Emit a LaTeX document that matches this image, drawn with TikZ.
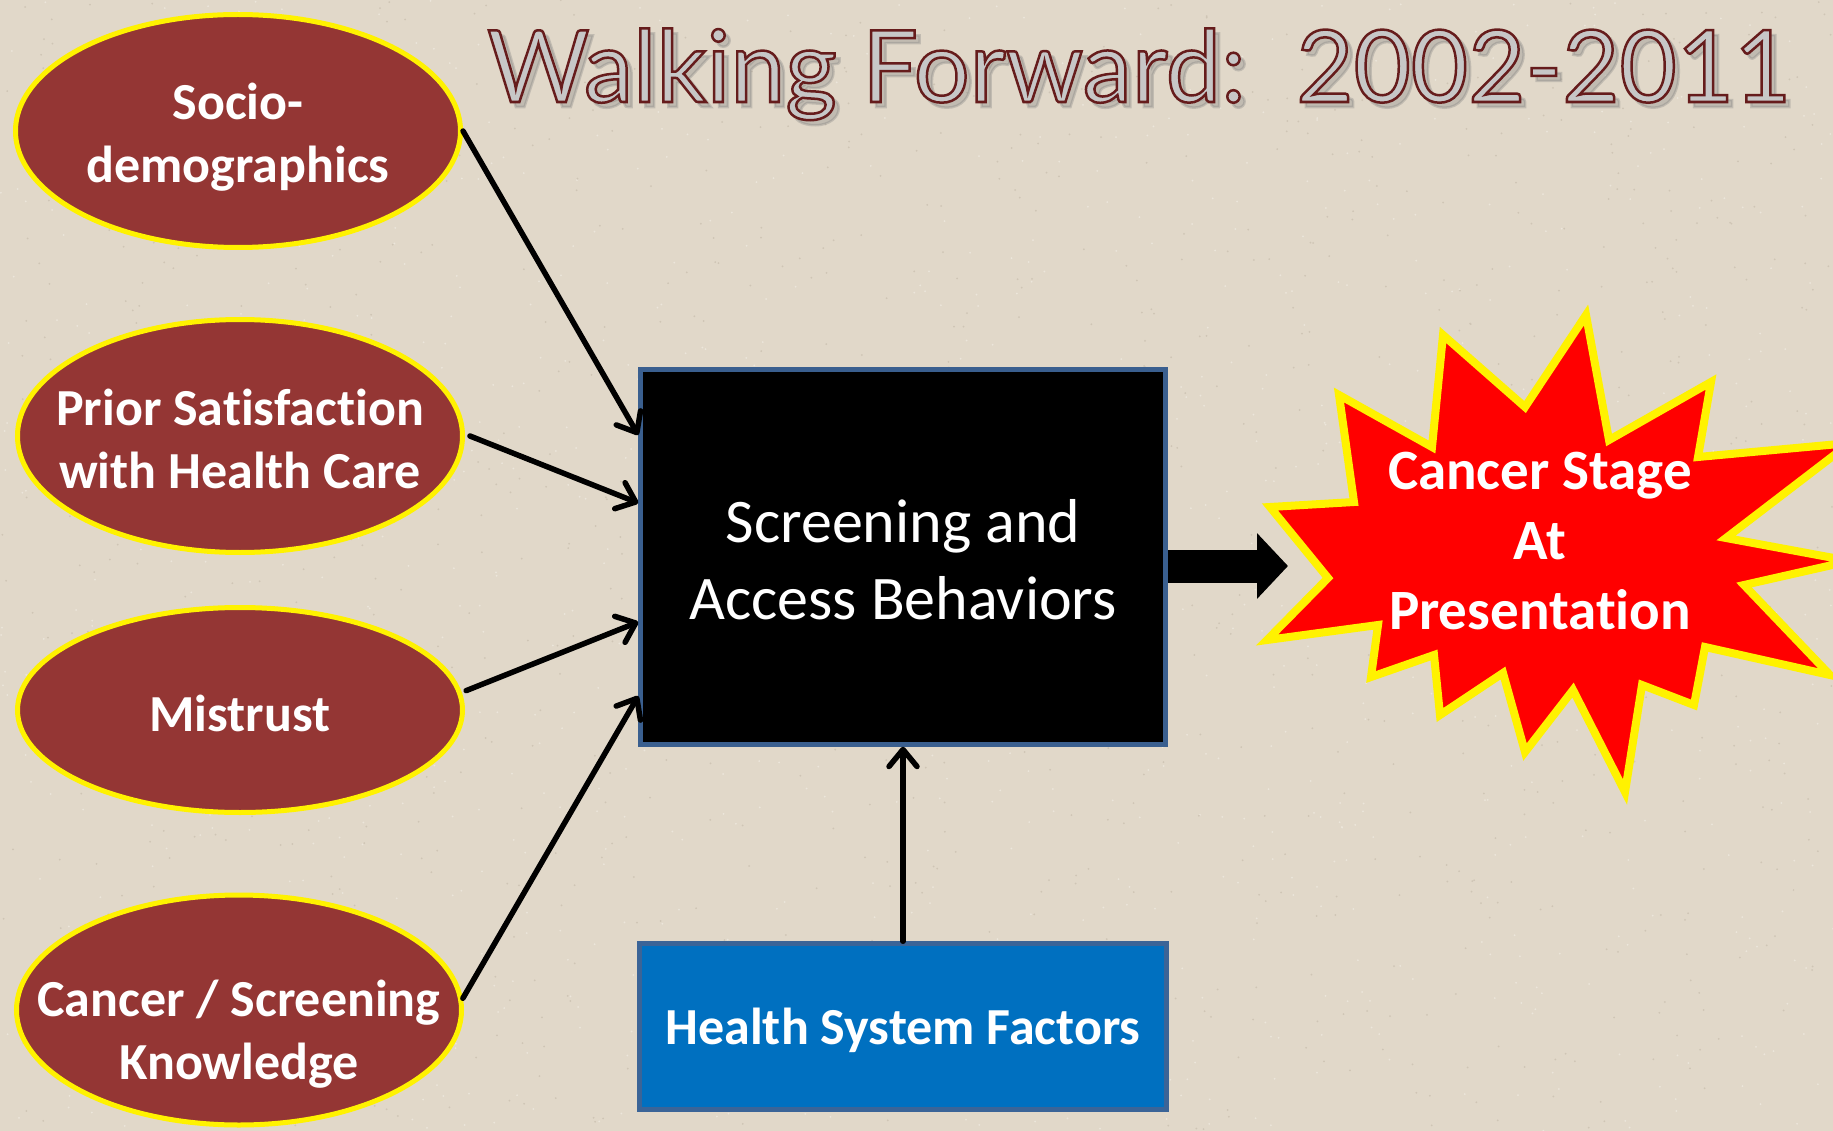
\documentclass[tikz,border=0pt]{standalone}
\usepackage{fontspec}
\usepackage{graphicx}
\setmainfont{Carlito}[Ligatures=NoCommon]
\newfontfamily\titlefont[FakeBold=2.5]{Lato}
\usetikzlibrary{positioning, arrows.meta, shapes.geometric}
\definecolor{slidebg}{HTML}{E1D8C9}
\definecolor{speckdark}{HTML}{CFC5B5}
\definecolor{specklight}{HTML}{ECE6DB}
\definecolor{ovalred}{HTML}{943634}
\definecolor{boxedge}{HTML}{3A5F8F}
\definecolor{hsfblue}{HTML}{0070C0}
\definecolor{hsfedge}{HTML}{3B6497}
\definecolor{shadowgray}{HTML}{7A7A7A}

\newcommand{\titletext}{\resizebox{1304pt}{\height}{Walking Forward:\ \ 2002-2011}}
% grey face with a dark red rim (fill colour, then stroke colour)
\newcommand{\rimtext}{\special{pdf:bcolor [0.78 0.78 0.78] [0.40 0.11 0.11]}\titletext\special{pdf:ecolor}}

\begin{document}
\begin{tikzpicture}[x=1pt, y=-1pt,
    oval/.style={ellipse, fill=ovalred, draw=yellow, line width=5pt,
        minimum width=445pt, minimum height=233pt, inner sep=0pt},
    ovaltext/.style={text=white, align=center, inner sep=0pt,
        font=\fontsize{52}{63}\selectfont\bfseries},
    behavbox/.style={rectangle, draw=boxedge, fill=black, line width=4.5pt,
        minimum width=525pt, minimum height=375pt, inner sep=0pt},
    boxtext/.style={text=white, align=center, inner sep=0pt,
        font=\fontsize{62}{77}\selectfont},
    hsfbox/.style={rectangle, draw=hsfedge, fill=hsfblue, line width=4.5pt,
        minimum width=527pt, minimum height=166pt, inner sep=0pt},
    hsftext/.style={text=white, inner sep=0pt,
        font=\fontsize{52}{63}\selectfont\bfseries},
    burst/.style={fill=red, draw=yellow, line width=8pt, line join=miter},
    bursttext/.style={text=white, align=center, inner sep=0pt,
        font=\fontsize{57}{70}\selectfont\bfseries},
    titlestyle/.style={anchor=base west, inner sep=0pt,
        font=\titlefont\fontsize{100}{100}\selectfont},
    link/.style={line width=5.5pt, line cap=round,
        -{Straight Barb[length=17pt,width=28pt,round]}},
    bigarrow/.style={line width=33pt, -{Triangle[length=31pt,width=64pt]}}]

    \useasboundingbox (0,0) rectangle (1833,1131);
    \clip (0,0) rectangle (1833,1131);

    % paper background
    \fill[slidebg] (0,0) rectangle (1833,1131);
    \pgfmathsetseed{42}
    \foreach \k in {1,...,1100} {
        \fill[speckdark] (rnd*1833, rnd*1131) circle[radius=1pt];
        \fill[specklight] (rnd*1833, rnd*1131) circle[radius=1pt];
    }

    % title with its shadow
    \node[titlestyle, text=shadowgray, opacity=0.3] (tshadow) at (492,107) {\titletext};
    \node[titlestyle] (title) at (487,102) {\rimtext};

    % factors on the left
    \node[oval] (socio) at (238,131) {};
    \node[ovaltext] (sociotxt) at (238,137) {Socio-\\demographics};
    \node[oval] (prior) at (240,436) {};
    \node[ovaltext] (priortxt) at (240,439) {Prior Satisfaction\\with Health Care};
    \node[oval, minimum height=205pt] (mistrust) at (240,710) {};
    \node[ovaltext] (mistrusttxt) at (240,713) {Mistrust};
    \node[oval, minimum height=230pt] (knowledge) at (239,1010) {};
    \node[ovaltext] (knowtxt) at (239,1034) {Cancer / Screening\\Knowledge};

    % behaviour box and health system
    \node[behavbox] (behav) at (903,557) {};
    \node[boxtext] (behavtxt) at (903,560) {Screening and\\Access Behaviors};
    \node[hsfbox] (hsf) at (903,1026.5) {};
    \node[hsftext] (hsftxt) at (903,1030) {Health System Factors};

    % outcome burst
    \draw[burst] (1586,315) -- (1609,440) -- (1711,382) -- (1698,457)
        -- (1850,443) -- (1726,538) -- (1850,561) -- (1744,585)
        -- (1830,675) -- (1705,647) -- (1694,705) -- (1642,685)
        -- (1625,792) -- (1573,690) -- (1525,752) -- (1503,673)
        -- (1440,715) -- (1434,655) -- (1371,677) -- (1378,625)
        -- (1267,640) -- (1328,578) -- (1270,507) -- (1354,502)
        -- (1339,395) -- (1432,447) -- (1443,335) -- (1525,407) -- cycle;
    \node[bursttext] (stage) at (1540,541) {Cancer Stage\\At\\Presentation};
    \coordinate (burstin) at (1288,566);

    % arrows
    \draw[link] (socio.east) -- ([yshift=122pt]behav.west);
    \draw[link] ([xshift=5pt]prior.east) -- ([yshift=54pt]behav.west);
    \draw[link] ([xshift=5pt]mistrust.5) -- ([yshift=-65pt]behav.west);
    \draw[link] (knowledge.3) -- ([yshift=-139pt]behav.west);
    \draw[link] (hsf) -- (behav);
    \draw[bigarrow] (behav.east |- burstin) -- (burstin);
\end{tikzpicture}
\end{document}
